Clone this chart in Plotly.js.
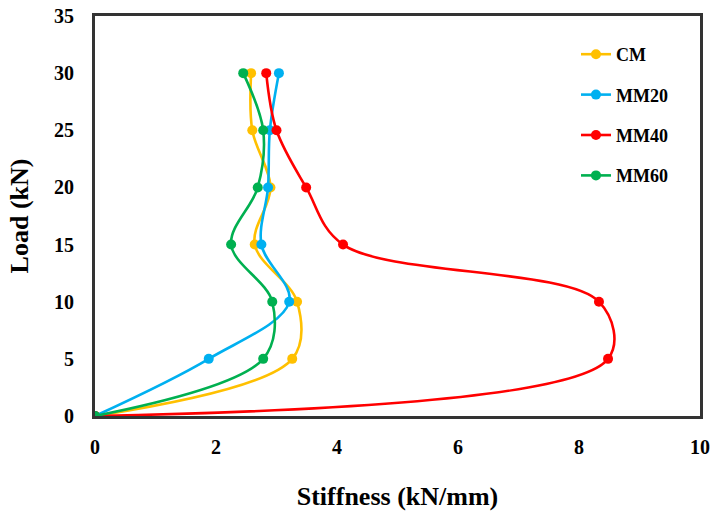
<!DOCTYPE html>
<html><head><meta charset="utf-8">
<script src="https://cdn.plot.ly/plotly-3.0.1.min.js"></script>
<style>body{margin:0;background:#fff}#chart{width:711px;height:511px}</style>
</head><body><div id="chart"></div>
<script>
const loads = [0, 5, 10, 15, 20, 25, 30];
const cmStiff   = [0, 3.26, 3.34, 2.64, 2.90, 2.60, 2.58];
const mm20Stiff = [0, 1.88, 3.21, 2.75, 2.86, 2.89, 3.04];
const mm40Stiff = [0, 8.48, 8.33, 4.10, 3.49, 3.00, 2.83];
const mm60Stiff = [0, 2.78, 2.93, 2.25, 2.69, 2.78, 2.45];
const seriesNames = ["CM", "MM20", "MM40", "MM60"];
const seriesColors = ["#FFC000", "#00B0F0", "#FF0000", "#00B050"];
const xTicks = [0, 2, 4, 6, 8, 10];
const yTicks = [0, 5, 10, 15, 20, 25, 30, 35];

const allStiff = [cmStiff, mm20Stiff, mm40Stiff, mm60Stiff];
const traces = allStiff.map((s, i) => ({
  x: s, y: loads, name: "<b>" + seriesNames[i] + "</b>", legendgroup: seriesNames[i],
  type: "scatter", mode: "lines+markers",
  line: {color: seriesColors[i], width: 2.6, shape: "spline", smoothing: 1},
  marker: {color: seriesColors[i], size: 10}
}));

const fam = "Liberation Serif, Times New Roman, serif";
const layout = {
  width: 711, height: 511,
  margin: {l: 95, r: 11, t: 16, b: 95},
  paper_bgcolor: "#fff", plot_bgcolor: "#fff",
  showlegend: true,
  legend: {x: 0.795, y: 0.95, xanchor: "left", yanchor: "top",
    bgcolor: "rgba(0,0,0,0)", traceorder: "grouped", tracegroupgap: 14,
    font: {family: fam, size: 18, color: "#000"}},
  xaxis: {range: [0, 10], tickvals: xTicks, ticktext: xTicks.map(v => "<b>" + v + "</b>"),
    ticks: "", ticklabelstandoff: 11, showgrid: false, zeroline: false,
    showline: true, mirror: true, linecolor: "#333", linewidth: 3,
    tickfont: {family: fam, size: 20, color: "#000"},
    title: {text: "<b>Stiffness (kN/mm)</b>", standoff: 30,
      font: {family: fam, size: 26, color: "#000"}}},
  yaxis: {range: [0, 35], tickvals: yTicks, ticktext: yTicks.map(v => "<b>" + v + "</b>"),
    ticks: "", ticklabelstandoff: 14, showgrid: false, zeroline: false,
    showline: true, mirror: true, linecolor: "#333", linewidth: 3,
    tickfont: {family: fam, size: 20, color: "#000"},
    title: {text: "<b>Load (kN)</b>", standoff: 18,
      font: {family: fam, size: 26, color: "#000"}}}
};
Plotly.newPlot("chart", traces, layout, {displayModeBar: false, staticPlot: true});
</script></body></html>
